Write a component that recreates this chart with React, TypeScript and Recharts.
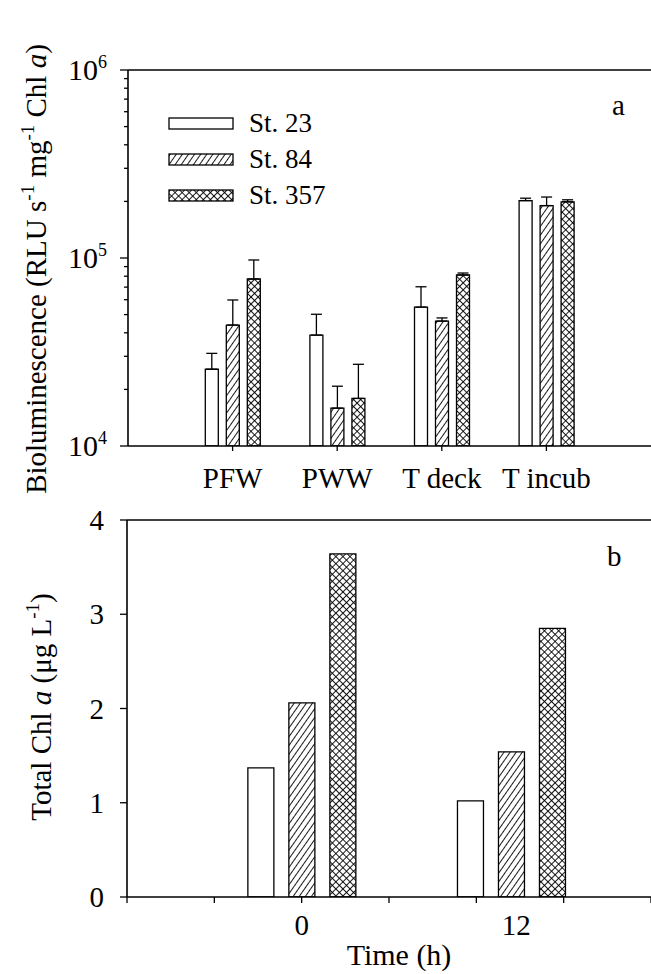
import React from 'react';
import { BarChart, Bar, XAxis, YAxis, ErrorBar, ReferenceLine, Legend } from 'recharts';

const FONT = '"Liberation Serif", "Times New Roman", serif';

// ---- Panel a data ----
const categoriesA = ['PFW', 'PWW', 'T deck', 'T incub'];
const positionsA = [1, 2, 3, 4];
const st23A = [25600, 38900, 54800, 202000];
const st84A = [44000, 15900, 46200, 190000];
const st357A = [77300, 17900, 81200, 199000];
const st23ErrA = [5500, 11300, 15500, 6000];
const st84ErrA = [15800, 4900, 1800, 21000];
const st357ErrA = [20300, 9300, 2000, 5000];
const yTicksA = [
  10000, 20000, 30000, 40000, 50000, 60000, 70000, 80000, 90000,
  100000, 200000, 300000, 400000, 500000, 600000, 700000, 800000, 900000,
  1000000,
];
const majorTicksA = [10000, 100000, 1000000];
const majorExpA = ['4', '5', '6'];

// ---- Panel b data ----
const timesB = [0, 12];
const st23B = [1.37, 1.02];
const st84B = [2.06, 1.54];
const st357B = [3.64, 2.85];
const xTicksB = [-10, -5, 0, 5, 10, 12, 15, 20];
const xLabelValuesB = [0, 12];
const xLabelsB = ['0', '12'];
const yTicksB = [0, 1, 2, 3, 4];

const seriesNames = ['St. 23', 'St. 84', 'St. 357'];

const dataA = positionsA.map((x, i) => ({
  x,
  s23: st23A[i],
  s84: st84A[i],
  s357: st357A[i],
  e23: [0, st23ErrA[i]],
  e84: [0, st84ErrA[i]],
  e357: [0, st357ErrA[i]],
}));

const dataB = timesB.map((t, i) => ({
  t,
  s23: st23B[i],
  s84: st84B[i],
  s357: st357B[i],
}));

const Patterns = ({ prefix }: { prefix: string }) => (
  <defs>
    <pattern id={`${prefix}-hatch`} patternUnits="userSpaceOnUse" width="5" height="10" patternTransform="rotate(35)">
      <rect x="-1" y="-1" width="7" height="12" fill="#fff" />
      <line x1="2.5" y1="-1" x2="2.5" y2="11" stroke="#000" strokeWidth="0.9" />
    </pattern>
    <pattern id={`${prefix}-cross`} patternUnits="userSpaceOnUse" width="5" height="5" patternTransform="rotate(45)">
      <rect x="-1" y="-1" width="7" height="7" fill="#fff" />
      <line x1="2.5" y1="-1" x2="2.5" y2="6" stroke="#000" strokeWidth="0.9" />
      <line x1="-1" y1="2.5" x2="6" y2="2.5" stroke="#000" strokeWidth="0.9" />
    </pattern>
  </defs>
);

const YTickA = (props: any) => {
  const { x, y, payload } = props;
  const v = payload.value;
  const mi = majorTicksA.indexOf(v);
  const major = mi >= 0;
  return (
    <g>
      <line x1={x} x2={x - (major ? 8 : 4)} y1={y} y2={y} stroke="#000" strokeWidth={1.3} />
      {major && (
        <text x={x - 21} y={y + 10} textAnchor="end" fontFamily={FONT} fontSize={30} fill="#000">
          <tspan>10</tspan>
          <tspan dy={-12} fontSize={18}>{majorExpA[mi]}</tspan>
        </text>
      )}
    </g>
  );
};

const XTickA = (props: any) => {
  const { x, y, payload } = props;
  const i = positionsA.indexOf(payload.value);
  return (
    <g>
      <line x1={x} x2={x} y1={y} y2={y + 5} stroke="#000" strokeWidth={1.3} />
      <text x={x} y={y + 42} textAnchor="middle" fontFamily={FONT} fontSize={29} fill="#000">
        {i >= 0 ? categoriesA[i] : ''}
      </text>
    </g>
  );
};

const YTickB = (props: any) => {
  const { x, y, payload } = props;
  return (
    <g>
      <line x1={x} x2={x - 7} y1={y} y2={y} stroke="#000" strokeWidth={1.3} />
      <text x={x - 23} y={y + 10} textAnchor="end" fontFamily={FONT} fontSize={29} fill="#000">
        {String(payload.value)}
      </text>
    </g>
  );
};

const XTickB = (props: any) => {
  const { x, y, payload } = props;
  const li = xLabelValuesB.indexOf(payload.value);
  const showLine = payload.value !== 12;
  return (
    <g>
      {showLine && <line x1={x} x2={x} y1={y} y2={y + 6} stroke="#000" strokeWidth={1.3} />}
      {li >= 0 && (
        <text x={x} dx={payload.value === 12 ? 5 : 0} y={y + 38} textAnchor="middle" fontFamily={FONT} fontSize={29} fill="#000">
          {xLabelsB[li]}
        </text>
      )}
    </g>
  );
};

const fills = ['#fff', 'url(#lg-hatch)', 'url(#lg-cross)'];

const LegendContent = () => (
  <div style={{ fontFamily: FONT }}>
    {seriesNames.map((n, i) => (
      <div key={n} style={{ display: 'flex', alignItems: 'center', height: 36 }}>
        <svg width={66} height={13} style={{ display: 'block' }}>
          {i === 0 && <Patterns prefix="lg" />}
          <rect x={1} y={1} width={64} height={11} fill={fills[i]} stroke="#000" strokeWidth={1.3} />
        </svg>
        <span style={{ marginLeft: 15, fontSize: 27, lineHeight: 1, color: '#000' }}>{n}</span>
      </div>
    ))}
  </div>
);

const YTitleA = () => (
  <text
    x={46}
    y={269}
    transform="rotate(-90 46 269)"
    textAnchor="middle"
    fontFamily={FONT}
    fontSize={29}
    fill="#000"
  >
    <tspan>Bioluminescence (RLU s</tspan>
    <tspan dy={-12} fontSize={19}>-1</tspan>
    <tspan dy={12}> mg</tspan>
    <tspan dy={-12} fontSize={19}>-1</tspan>
    <tspan dy={12}> Chl </tspan>
    <tspan fontStyle="italic">a</tspan>
    <tspan>)</tspan>
  </text>
);

const YTitleB = () => (
  <text
    x={51}
    y={207}
    transform="rotate(-90 51 207)"
    textAnchor="middle"
    fontFamily={FONT}
    fontSize={29}
    fill="#000"
  >
    <tspan>Total Chl </tspan>
    <tspan fontStyle="italic">a</tspan>
    <tspan> (μg L</tspan>
    <tspan dy={-12} fontSize={19}>-1</tspan>
    <tspan dy={12}>)</tspan>
  </text>
);

const XTitleB = () => (
  <text x={399} y={465} textAnchor="middle" fontFamily={FONT} fontSize={30} fill="#000">
    Time (h)
  </text>
);

export default function App() {
  return (
    <div style={{ position: 'absolute', left: 0, top: 0, width: 651, height: 974, background: '#fff', overflow: 'hidden' }}>
      <div style={{ position: 'absolute', left: 0, top: 0 }}>
        <BarChart
          width={651}
          height={500}
          data={dataA}
          margin={{ top: 70, right: 0, left: 0, bottom: 0 }}
          barGap={8}
          barSize={13}
        >
          <Patterns prefix="pa" />
          <XAxis
            dataKey="x"
            type="number"
            domain={[0, 5]}
            ticks={positionsA}
            interval={0}
            allowDataOverflow
            height={54}
            tickSize={0}
            tickMargin={0}
            tickLine={false}
            tick={<XTickA />}
            axisLine={{ stroke: '#000', strokeWidth: 1.6 }}
          />
          <YAxis
            type="number"
            scale="log"
            domain={[10000, 1000000]}
            allowDataOverflow
            ticks={yTicksA}
            interval={0}
            width={128}
            tickSize={0}
            tickMargin={0}
            tickLine={false}
            tick={<YTickA />}
            axisLine={{ stroke: '#000', strokeWidth: 1.6 }}
            label={{ content: () => <YTitleA /> }}
          />
          <ReferenceLine y={1000000} stroke="#000" strokeWidth={1.6} />
          <Legend
            layout="vertical"
            align="center"
            verticalAlign="middle"
            content={() => <LegendContent />}
            wrapperStyle={{ left: 168, top: 105, width: 220, height: 110 }}
          />
          <Bar dataKey="s23" name={seriesNames[0]} fill="#fff" stroke="#000" strokeWidth={1.3} isAnimationActive={false}>
            <ErrorBar dataKey="e23" width={5.5} stroke="#000" strokeWidth={1.3} direction="y" />
          </Bar>
          <Bar dataKey="s84" name={seriesNames[1]} fill="url(#pa-hatch)" stroke="#000" strokeWidth={1.3} isAnimationActive={false}>
            <ErrorBar dataKey="e84" width={5.5} stroke="#000" strokeWidth={1.3} direction="y" />
          </Bar>
          <Bar dataKey="s357" name={seriesNames[2]} fill="url(#pa-cross)" stroke="#000" strokeWidth={1.3} isAnimationActive={false}>
            <ErrorBar dataKey="e357" width={5.5} stroke="#000" strokeWidth={1.3} direction="y" />
          </Bar>
        </BarChart>
      </div>
      <div style={{ position: 'absolute', left: 612, top: 91, fontFamily: FONT, fontSize: 29, lineHeight: 1, color: '#000' }}>a</div>

      <div style={{ position: 'absolute', left: 0, top: 500 }}>
        <BarChart
          width={651}
          height={474}
          data={dataB}
          margin={{ top: 20, right: 0, left: 0, bottom: 0 }}
          barGap={15}
          barSize={26}
        >
          <Patterns prefix="pb" />
          <XAxis
            dataKey="t"
            type="number"
            domain={[-10, 20]}
            ticks={xTicksB}
            interval={0}
            allowDataOverflow
            height={77}
            tickSize={0}
            tickMargin={0}
            tickLine={false}
            tick={<XTickB />}
            axisLine={{ stroke: '#000', strokeWidth: 1.6 }}
            label={{ content: () => <XTitleB /> }}
          />
          <YAxis
            type="number"
            domain={[0, 4]}
            ticks={yTicksB}
            interval={0}
            allowDataOverflow
            width={127}
            tickSize={0}
            tickMargin={0}
            tickLine={false}
            tick={<YTickB />}
            axisLine={{ stroke: '#000', strokeWidth: 1.6 }}
            label={{ content: () => <YTitleB /> }}
          />
          <ReferenceLine y={4} stroke="#000" strokeWidth={1.6} />
          <Bar dataKey="s23" name={seriesNames[0]} fill="#fff" stroke="#000" strokeWidth={1.3} isAnimationActive={false} />
          <Bar dataKey="s84" name={seriesNames[1]} fill="url(#pb-hatch)" stroke="#000" strokeWidth={1.3} isAnimationActive={false} />
          <Bar dataKey="s357" name={seriesNames[2]} fill="url(#pb-cross)" stroke="#000" strokeWidth={1.3} isAnimationActive={false} />
        </BarChart>
      </div>
      <div style={{ position: 'absolute', left: 607, top: 542, fontFamily: FONT, fontSize: 29, lineHeight: 1, color: '#000' }}>b</div>
    </div>
  );
}
